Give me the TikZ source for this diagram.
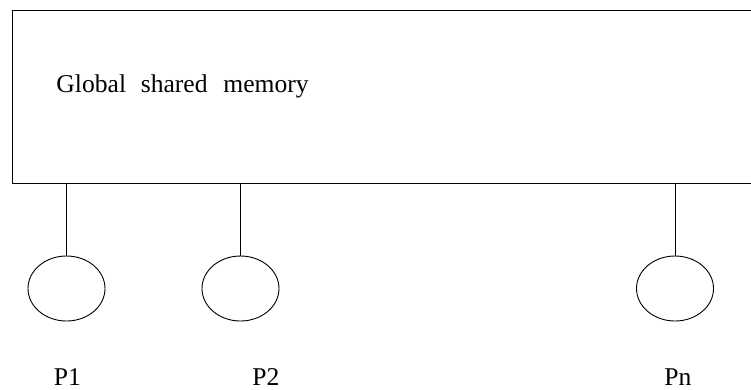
\documentclass[tikz,border=0pt]{standalone}
\usepackage{fontspec}
\setmainfont{Liberation Serif}
\usetikzlibrary{shapes.geometric}
\begin{document}
\begin{tikzpicture}[x=1pt,y=-1pt,
  line width=0.9pt,
  proc/.style={draw, ellipse, minimum width=77pt, minimum height=65pt, inner sep=0pt},
  lbl/.style={anchor=base, inner sep=0pt, font=\fontsize{25.6}{30}\selectfont},
  conn/.style={draw}]
\useasboundingbox (0,0) rectangle (751,389);
\clip (0,0) rectangle (751,389);
\node[draw, anchor=north west, minimum width=760pt, minimum height=173pt, inner sep=0pt] (mem) at (12,10) {};
\node[anchor=base west, inner sep=0pt, font=\fontsize{25.6}{30}\selectfont] (memtext) at (56,92) {Global\hspace{14.7pt}shared\hspace{15.7pt}memory};
\node[proc] (p1) at (66.5,288.5) {};
\node[proc] (p2) at (240.5,288.5) {};
\node[proc] (pn) at (675,288.5) {};
\draw[conn] (p1.north) -- (p1.north |- mem.south);
\draw[conn] (p2.north) -- (p2.north |- mem.south);
\draw[conn] (pn.north) -- (pn.north |- mem.south);
\node[lbl] (l1) at (67.5,385) {P1};
\node[lbl] (l2) at (266,385) {P2};
\node[lbl] (ln) at (678,385) {Pn};
\end{tikzpicture}
\end{document}
